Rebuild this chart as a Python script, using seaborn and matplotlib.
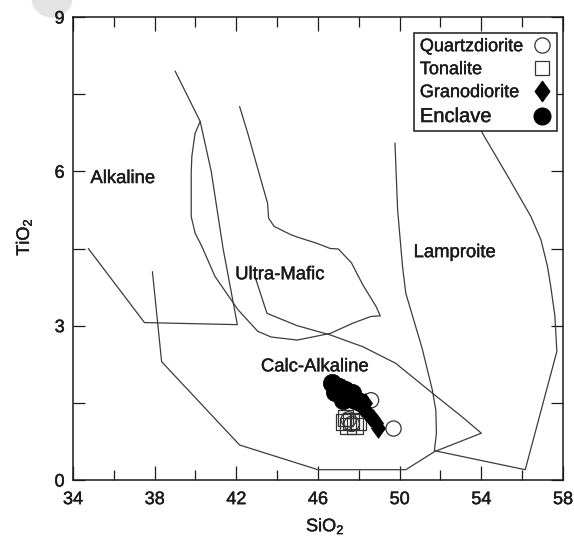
import matplotlib
matplotlib.use("Agg")
import matplotlib.pyplot as plt
from matplotlib.lines import Line2D
from matplotlib.path import Path
from matplotlib.patches import Ellipse
import matplotlib.patheffects as pe
import seaborn as sns

# ---- Discrimination field boundaries (SiO2 wt%, TiO2 wt%) ----
alkaline_sio2 = [34.75, 37.5, 40.9, 42.05, 41.35, 40.77, 40.23, 39.0]
alkaline_tio2 = [4.50, 3.06, 3.03, 3.02, 4.50, 6.00, 6.97, 7.95]

ultramafic_sio2 = [42.16, 42.56, 43.2, 43.53, 43.58, 43.85, 44.66, 45.0, 45.95,
                   46.6, 47.0, 47.64, 48.2, 48.85, 49.05, 48.6, 47.72, 46.6,
                   44.98, 43.7, 43.05, 42.08, 40.95, 40.3, 39.98, 39.79, 39.79,
                   39.82, 39.98, 40.23]
ultramafic_tio2 = [7.26, 6.74, 5.84, 5.38, 5.09, 4.93, 4.77, 4.72, 4.60,
                   4.50, 4.49, 4.22, 3.79, 3.37, 3.19, 3.18, 3.05, 2.85,
                   2.72, 2.78, 2.89, 3.31, 3.96, 4.55, 4.80, 5.12, 5.97,
                   6.29, 6.74, 6.97]

calcalk_sio2 = [42.9, 43.5, 44.98, 46.6, 48.2, 49.8, 51.6, 53.05, 54.0,
                51.7, 50.3, 46.0, 42.16, 38.34, 37.89]
calcalk_tio2 = [3.97, 3.24, 3.00, 2.82, 2.59, 2.27, 1.69, 1.23, 0.91,
                0.55, 0.20, 0.20, 0.68, 2.30, 4.05]

lamproite_sio2 = [49.77, 49.9, 50.14, 50.3, 51.1, 51.6, 51.77, 51.8, 51.7,
                  56.15, 57.7, 57.6, 57.4, 57.24, 56.92, 56.43, 55.3, 54.1, 52.3]
lamproite_tio2 = [6.55, 5.25, 4.15, 3.63, 2.56, 1.75, 1.36, 0.91, 0.57,
                  0.20, 2.50, 3.20, 3.76, 4.15, 4.67, 5.12, 5.90, 6.71, 8.10]

# ---- Samples ----
quartzdiorite_sio2 = [49.70, 48.60, 47.65, 47.50]
quartzdiorite_tio2 = [1.00, 1.55, 1.09, 1.18]

tonalite_sio2 = [47.25, 47.45, 47.60, 47.95, 47.35, 47.80]
tonalite_tio2 = [1.13, 1.05, 1.15, 1.12, 1.20, 1.05]

granodiorite_sio2 = [48.15, 48.35, 48.55, 48.70, 48.85, 48.95, 48.30]
granodiorite_tio2 = [1.42, 1.35, 1.25, 1.18, 1.10, 1.02, 1.50]

enclave_sio2 = [46.70, 46.85, 47.05, 47.30, 47.45, 47.65, 47.80, 48.05, 47.20]
enclave_tio2 = [1.88, 1.72, 1.80, 1.75, 1.62, 1.70, 1.55, 1.52, 1.55]

legend_labels = ["Quartzdiorite", "Tonalite", "Granodiorite", "Enclave"]
field_labels = ["Alkaline", "Ultra-Mafic", "Lamproite", "Calc-Alkaline"]
field_label_sio2 = [36.44, 44.13, 52.69, 45.85]
field_label_tio2 = [5.86, 3.99, 4.42, 2.20]

sns.set_theme(style="ticks")
plt.rcParams["font.family"] = ["Liberation Sans", "DejaVu Sans"]
plt.rcParams["mathtext.fontset"] = "custom"
plt.rcParams["mathtext.rm"] = "Liberation Sans"
plt.rcParams["mathtext.it"] = "Liberation Sans:italic"
plt.rcParams["mathtext.bf"] = "Liberation Sans:bold"

ink = "#1a1a1a"
line_col = "#3c3c3c"
heavy = [pe.withStroke(linewidth=0.3, foreground=ink)]

fig = plt.figure(figsize=(5.74, 5.43), dpi=100)
fig.patch.set_facecolor("white")
ax = fig.add_axes([73 / 574, 1 - 480 / 543, 490 / 574, 463 / 543])

# faint grey disc bleeding in at the top-left corner
fig.add_artist(Ellipse((52 / 574, 1 + 3 / 543), 40 / 574, 40 / 543,
                       transform=fig.transFigure, color="#e3e3e3", zorder=0))

# field boundaries
for xs, ys in [(alkaline_sio2, alkaline_tio2), (ultramafic_sio2, ultramafic_tio2),
               (calcalk_sio2, calcalk_tio2), (lamproite_sio2, lamproite_tio2)]:
    sns.lineplot(x=xs, y=ys, sort=False, estimator=None, color=line_col,
                 lw=0.9, ax=ax, zorder=2)

# thin diamond marker
diamond = Path([(0, 1), (0.72, 0), (0, -1), (-0.72, 0), (0, 1)],
               [Path.MOVETO, Path.LINETO, Path.LINETO, Path.LINETO, Path.CLOSEPOLY])

sns.scatterplot(x=tonalite_sio2, y=tonalite_tio2, marker="s", s=130,
                facecolor="none", edgecolor="#333333", linewidth=0.9, ax=ax, zorder=3)
sns.scatterplot(x=quartzdiorite_sio2, y=quartzdiorite_tio2, marker="o", s=120,
                facecolor="none", edgecolor="#333333", linewidth=0.9, ax=ax, zorder=3)
sns.scatterplot(x=enclave_sio2, y=enclave_tio2, marker="o", s=175,
                color="black", edgecolor="black", linewidth=0.5, ax=ax, zorder=4)
sns.scatterplot(x=granodiorite_sio2, y=granodiorite_tio2, marker=diamond, s=200,
                color="black", edgecolor="black", linewidth=0.5, ax=ax, zorder=5)

for lab, lx, ly in zip(field_labels, field_label_sio2, field_label_tio2):
    ax.text(lx, ly, lab, ha="center", va="center", fontsize=13.3, color=ink,
            zorder=6, path_effects=heavy)

ax.set_xlim(34, 58)
ax.set_ylim(0, 9)
ax.set_xticks(range(34, 59, 4))
ax.set_xticks(range(36, 58, 4), minor=True)
ax.set_yticks([0, 3, 6, 9])
ax.set_yticks([1.5, 4.5, 7.5], minor=True)
ax.tick_params(which="both", direction="in", top=True, right=True,
               color=ink, width=0.9, labelsize=13, labelcolor=ink)
ax.tick_params(axis="x", which="major", length=10, pad=8)
ax.tick_params(axis="x", which="minor", length=7)
ax.tick_params(axis="y", which="both", length=8.5, pad=6)
for sp in ax.spines.values():
    sp.set_color(ink)
    sp.set_linewidth(1.1)
for t in ax.get_xticklabels() + ax.get_yticklabels():
    t.set_path_effects(heavy)

ax.set_xlabel("SiO$_\\mathregular{2}$", fontsize=13, color=ink, va="center")
ax.xaxis.set_label_coords(0.515, -0.10)
ax.set_ylabel("TiO$_\\mathregular{2}$", fontsize=13, color=ink, va="center")
ax.yaxis.set_label_coords(-0.10, 0.525)
ax.xaxis.label.set_path_effects(heavy)
ax.yaxis.label.set_path_effects(heavy)

handles = [
    Line2D([], [], ls="none", marker="o", ms=11, mfc="white", mec="#333333", mew=0.9),
    Line2D([], [], ls="none", marker="s", ms=10.5, mfc="white", mec="#333333", mew=0.9),
    Line2D([], [], ls="none", marker=diamond, ms=14.5, mfc="black", mec="black"),
    Line2D([], [], ls="none", marker="o", ms=12, mfc="black", mec="black"),
]
leg = ax.legend(handles, legend_labels, loc="upper right",
                bbox_to_anchor=(0.987, 0.966), markerfirst=False, frameon=True,
                fancybox=False, framealpha=1, edgecolor=ink, fontsize=13,
                borderpad=0.3, labelspacing=0.33, handlelength=1.0,
                handletextpad=0.55, borderaxespad=0)
leg.get_frame().set_linewidth(1.1)
for t in leg.get_texts():
    t.set_color(ink)
    t.set_path_effects(heavy)
leg.get_texts()[3].set_fontsize(14.5)
leg.set_zorder(10)

# left-align the legend labels while keeping the markers in one column
fig.canvas.draw()
renderer = fig.canvas.get_renderer()
widths = [t.get_window_extent(renderer).width for t in leg.get_texts()]
column = leg._legend_handle_box.get_children()[0]
for row, w in zip(column.get_children(), widths):
    row.sep = row.sep + (max(widths) - w) * 72 / fig.dpi

fig.savefig("out.png", dpi=100, facecolor="white")
